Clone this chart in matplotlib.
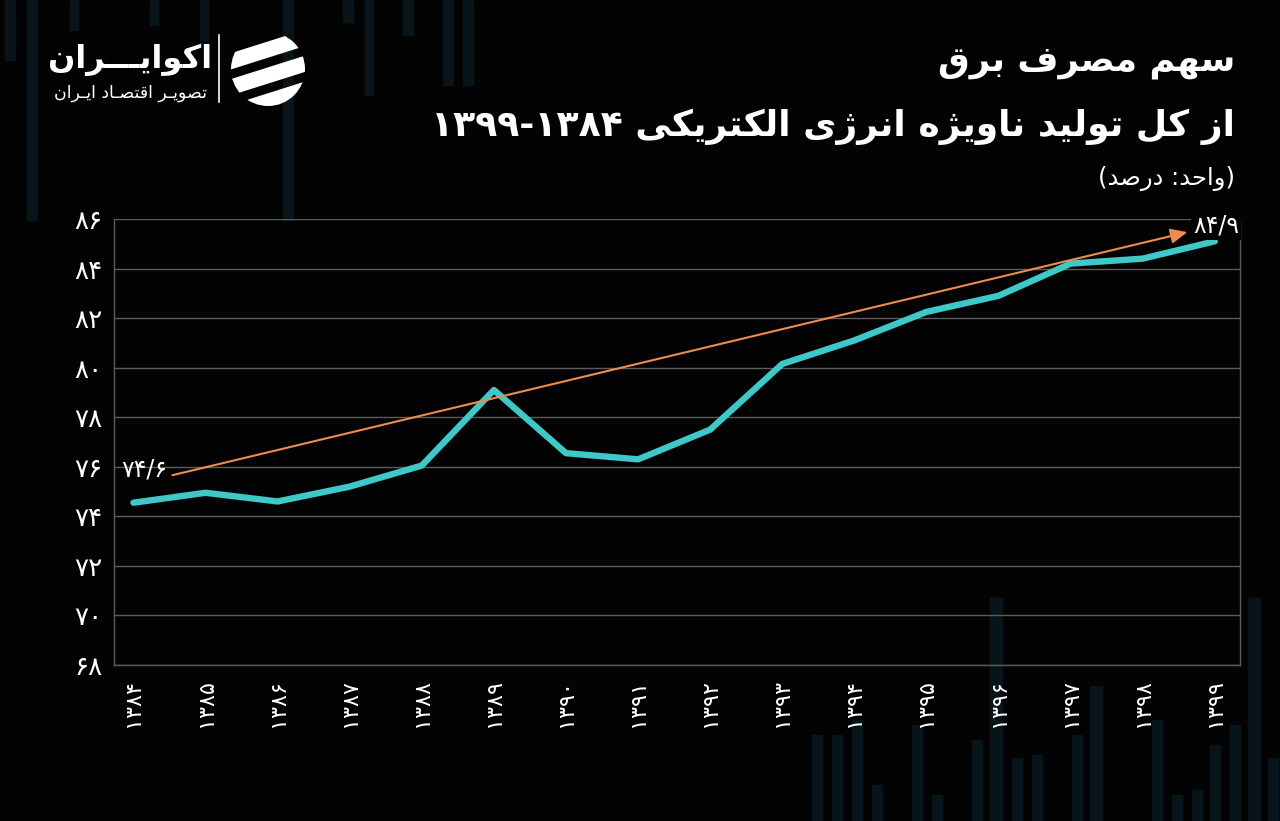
import matplotlib
matplotlib.use("Agg")
import matplotlib.pyplot as plt
from matplotlib.patches import Rectangle, Polygon, Circle
import numpy as np

# ---------------- data ----------------
years = [1384, 1385, 1386, 1387, 1388, 1389, 1390, 1391,
         1392, 1393, 1394, 1395, 1396, 1397, 1398, 1399]
share = [74.55, 74.95, 74.6, 75.2, 76.05, 79.1, 76.55, 76.3,
         77.5, 80.15, 81.1, 82.25, 82.9, 84.2, 84.4, 85.1]
trend_x = [0.54, 14.62]          # in year-index units
trend_y = [75.66, 85.47]
label_values = [74.6, 84.9]
y_ticks = [68, 70, 72, 74, 76, 78, 80, 82, 84, 86]

title1 = "سهم مصرف برق"
title2 = "از کل تولید ناویژه انرژی الکتریکی ۱۳۸۴-۱۳۹۹"
title3 = "(واحد: درصد)"
brand = "اکوایـــران"
brand_sub = "تصویـر اقتصـاد ایـران"

# ---------------- Persian helpers ----------------
FA_DIG = str.maketrans("0123456789.", "۰۱۲۳۴۵۶۷۸۹/")

def fa(v):
    s = ("%g" % v)
    return s.translate(FA_DIG)

FORMS = {
 'ا': ('\uFE8D', '\uFE8E', None, None),
 'آ': ('\uFE81', '\uFE82', None, None),
 'ب': ('\uFE8F', '\uFE90', '\uFE91', '\uFE92'),
 'پ': ('\uFB56', '\uFB57', '\uFB58', '\uFB59'),
 'ت': ('\uFE95', '\uFE96', '\uFE97', '\uFE98'),
 'ث': ('\uFE99', '\uFE9A', '\uFE9B', '\uFE9C'),
 'ج': ('\uFE9D', '\uFE9E', '\uFE9F', '\uFEA0'),
 'چ': ('\uFB7A', '\uFB7B', '\uFB7C', '\uFB7D'),
 'ح': ('\uFEA1', '\uFEA2', '\uFEA3', '\uFEA4'),
 'خ': ('\uFEA5', '\uFEA6', '\uFEA7', '\uFEA8'),
 'د': ('\uFEA9', '\uFEAA', None, None),
 'ذ': ('\uFEAB', '\uFEAC', None, None),
 'ر': ('\uFEAD', '\uFEAE', None, None),
 'ز': ('\uFEAF', '\uFEB0', None, None),
 'ژ': ('\uFB8A', '\uFB8B', None, None),
 'س': ('\uFEB1', '\uFEB2', '\uFEB3', '\uFEB4'),
 'ش': ('\uFEB5', '\uFEB6', '\uFEB7', '\uFEB8'),
 'ص': ('\uFEB9', '\uFEBA', '\uFEBB', '\uFEBC'),
 'ض': ('\uFEBD', '\uFEBE', '\uFEBF', '\uFEC0'),
 'ط': ('\uFEC1', '\uFEC2', '\uFEC3', '\uFEC4'),
 'ظ': ('\uFEC5', '\uFEC6', '\uFEC7', '\uFEC8'),
 'ع': ('\uFEC9', '\uFECA', '\uFECB', '\uFECC'),
 'غ': ('\uFECD', '\uFECE', '\uFECF', '\uFED0'),
 'ف': ('\uFED1', '\uFED2', '\uFED3', '\uFED4'),
 'ق': ('\uFED5', '\uFED6', '\uFED7', '\uFED8'),
 'ک': ('\uFB8E', '\uFB8F', '\uFB90', '\uFB91'),
 'گ': ('\uFB92', '\uFB93', '\uFB94', '\uFB95'),
 'ل': ('\uFEDD', '\uFEDE', '\uFEDF', '\uFEE0'),
 'م': ('\uFEE1', '\uFEE2', '\uFEE3', '\uFEE4'),
 'ن': ('\uFEE5', '\uFEE6', '\uFEE7', '\uFEE8'),
 'و': ('\uFEED', '\uFEEE', None, None),
 'ه': ('\uFEE9', '\uFEEA', '\uFEEB', '\uFEEC'),
 'ی': ('\uFBFC', '\uFBFD', '\uFBFE', '\uFBFF'),
 'ـ': ('ـ', 'ـ', 'ـ', 'ـ'),
}

def shape(text):
    out = []
    n = len(text)
    for i, ch in enumerate(text):
        if ch not in FORMS:
            out.append(ch)
            continue
        prev = text[i - 1] if i > 0 else None
        nxt = text[i + 1] if i < n - 1 else None
        jp = prev in FORMS and FORMS[prev][2] is not None
        jn = FORMS[ch][2] is not None and nxt in FORMS
        iso, fin, ini, med = FORMS[ch]
        if jp and jn:
            out.append(med)
        elif jp:
            out.append(fin)
        elif jn:
            out.append(ini)
        else:
            out.append(iso)
    s = "".join(out)[::-1]
    s = s.translate(str.maketrans("()", ")("))
    res, run = [], []
    digits = set("0123456789۰۱۲۳۴۵۶۷۸۹")
    for ch in s:
        if ch in digits:
            run.append(ch)
        else:
            if run:
                res.extend(run[::-1]); run = []
            res.append(ch)
    if run:
        res.extend(run[::-1])
    return "".join(res)

# ---------------- figure ----------------
BG = "#030303"
W, H = 1280, 821
fig = plt.figure(figsize=(12.8, 8.21), dpi=100, facecolor=BG)
plt.rcParams['font.family'] = ['DejaVu Sans']

# decorative background bars (figure pixels)
deco_top = [(5, 10, 60), (27, 10, 220), (283, 10, 220), (343, 10, 22),
            (403, 10, 35), (443, 10, 85), (463, 10, 85), (200, 8, 40),
            (70, 8, 30), (150, 8, 25), (365, 8, 95)]
deco_bot = [(812, 10, 735), (832, 10, 735), (852, 10, 720), (872, 10, 785),
            (912, 10, 725), (932, 10, 795), (972, 10, 740), (990, 12, 598),
            (1012, 10, 758), (1032, 10, 755), (1072, 10, 735), (1090, 12, 686),
            (1152, 10, 720), (1172, 10, 795), (1192, 10, 790), (1210, 10, 745),
            (1230, 10, 725), (1248, 12, 598), (1268, 10, 758)]
for x, w, y2 in deco_top:
    fig.patches.append(Rectangle((x / W, 1 - y2 / H), w / W, y2 / H,
                                 transform=fig.transFigure, color="#08141a",
                                 zorder=-5))
for x, w, y1 in deco_bot:
    fig.patches.append(Rectangle((x / W, 0), w / W, (H - y1) / H,
                                 transform=fig.transFigure, color="#07151b",
                                 zorder=-5))

# ---------------- main axes ----------------
ax = fig.add_axes([114 / W, 1 - 665 / H, (1240 - 114) / W, (665 - 219) / H])
ax.set_facecolor("none")
ax.set_zorder(2)
xs = np.arange(len(years))
ax.plot(xs, share, color="#3ec8c8", lw=4.6, solid_joinstyle="round",
        solid_capstyle="round", zorder=4)

ax.annotate("", xy=(trend_x[1], trend_y[1]), xytext=(trend_x[0], trend_y[0]),
            arrowprops=dict(arrowstyle="-|>,head_length=1.0,head_width=0.45",
                            color="#ee8c4c", lw=1.5, shrinkA=0, shrinkB=0),
            zorder=5)
ax.annotate(fa(label_values[0]), xy=(trend_x[0], trend_y[0]),
            xytext=(-4, 4), textcoords="offset points", ha="right",
            va="center", color="white", fontsize=17, zorder=6)
ax.annotate(fa(label_values[1]), xy=(trend_x[1], trend_y[1]),
            xytext=(4, 5), textcoords="offset points", ha="left",
            va="center", color="white", fontsize=17, zorder=6,
            annotation_clip=False,
            bbox=dict(boxstyle="square,pad=0.1", fc=BG, ec="none"))

ax.set_xlim(-0.27, 15.35)
ax.set_ylim(68, 86)
ax.set_yticks(y_ticks)
ax.set_yticklabels([fa(v) for v in y_ticks], color="white", fontsize=19)
ax.set_xticks(xs)
ax.set_xticklabels([fa(y) for y in years], rotation=90, color="white",
                   fontsize=16, va="top")
ax.tick_params(axis="both", length=0)
ax.tick_params(axis="y", pad=8)
ax.tick_params(axis="x", pad=10)
ax.grid(axis="y", color="#5c5c5c", lw=1.0, zorder=1)
for side in ["left", "bottom", "right"]:
    ax.spines[side].set_color("#5c5c5c")
    ax.spines[side].set_linewidth(1.0)
ax.spines["top"].set_visible(False)

# ---------------- titles ----------------
fig.text(1235 / W, 1 - 62 / H, shape(title1), ha="right", va="center",
         color="white", fontsize=25.5, fontweight="bold")
fig.text(1235 / W, 1 - 127 / H, shape(title2), ha="right", va="center",
         color="white", fontsize=26, fontweight="bold")
fig.text(1235 / W, 1 - 178 / H, shape(title3), ha="right", va="center",
         color="white", fontsize=17.5)

# ---------------- logo ----------------
fig.text(130 / W, 1 - 60 / H, shape(brand), ha="center", va="center",
         color="white", fontsize=23, fontweight="bold")
fig.text(130 / W, 1 - 93 / H, shape(brand_sub), ha="center", va="center",
         color="white", fontsize=12.5)
fig.lines.append(plt.Line2D([219 / W, 219 / W], [1 - 35 / H, 1 - 102 / H],
                            transform=fig.transFigure, color="white", lw=1.2))
lax = fig.add_axes([230 / W, 1 - 106 / H, 76 / W, 74 / H])
lax.set_xlim(-1, 1); lax.set_ylim(-1, 1); lax.set_aspect("equal")
lax.axis("off")
clip = Circle((0, 0), 1.0, transform=lax.transData)
for off in [-0.95, -0.25, 0.45]:
    poly = Polygon([(-1.5, off - 0.6), (1.5, off + 0.35), (1.5, off + 0.75),
                    (-1.5, off - 0.2)], closed=True, color="white")
    lax.add_patch(poly)
    poly.set_clip_path(clip)

fig.savefig("out.png", dpi=100, facecolor=BG)
